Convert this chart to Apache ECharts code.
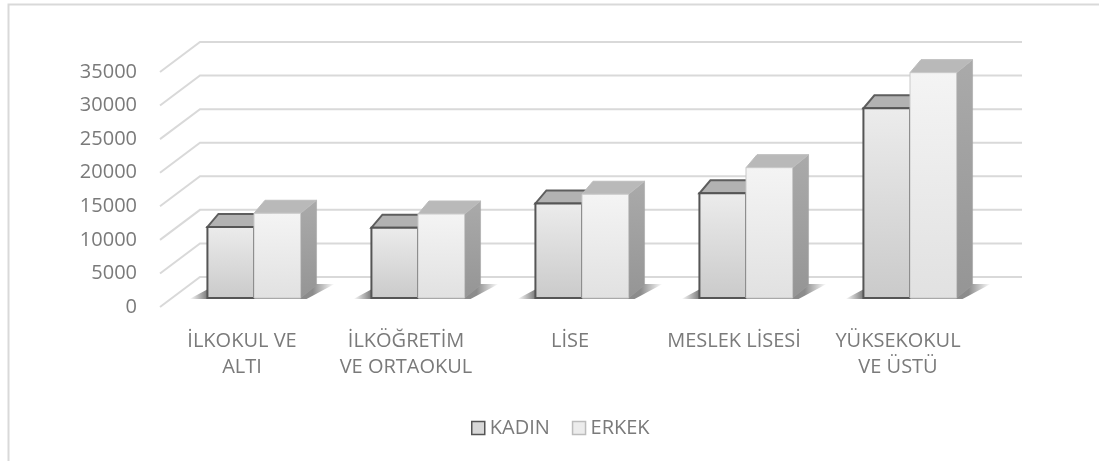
<!DOCTYPE html>
<html>
<head>
<meta charset="utf-8">
<script src="https://cdn.jsdelivr.net/npm/echarts@6/dist/echarts.min.js"></script>
<style>
  html, body { margin: 0; padding: 0; background: #fff; }
  #main { width: 1099px; height: 461px; }
</style>
</head>
<body>
<div id="main"></div>
<script>
// veriler
var categories = ['İLKOKUL VE\nALTI', 'İLKÖĞRETİM\nVE ORTAOKUL', 'LİSE', 'MESLEK LİSESİ', 'YÜKSEKOKUL\nVE ÜSTÜ'];
var kadin = [10580, 10470, 14080, 15590, 28250];
var erkek = [12620, 12510, 15450, 19410, 33560];
var yTicks = [0, 5000, 10000, 15000, 20000, 25000, 30000, 35000];

var FONT = '"Open Sans", Lato, sans-serif';
var TEXT = '#7a7a7a';

// 3B görünüm için kaydırmalar (duvar derinliği ve çubuk derinliği)
var WALL_DX = 40, WALL_DY = -30;
var BAR_DX = 12, BAR_DY = -9;          // çubuk ön yüzü zemin içinde
var TOP_DY = -13, TOP_DXL = 11, TOP_DXR = 16;

var myChart = echarts.init(document.getElementById('main'));

function lin(stops) {
  return new echarts.graphic.LinearGradient(0, 0, 0, 1, stops);
}

// arka duvar + sol kenar çizgileri
function renderGrid(params, api) {
  var cs = params.coordSys;
  var y = api.coord([0, api.value(1)])[1];
  var x0 = cs.x;
  var x1 = cs.x + cs.width + WALL_DX + 2;
  return {
    type: 'polyline',
    shape: { points: [[x0, y], [x0 + WALL_DX, y + WALL_DY], [x1, y + WALL_DY]] },
    style: { stroke: '#d9d9d9', lineWidth: 2, fill: null },
    silent: true
  };
}

// zemindeki gölge
function renderShadow(params, api) {
  var p = api.coord([api.value(0), 0]);
  var bw = api.size([1, 0])[0] * 0.284;
  var cx = p[0] + BAR_DX, yB = p[1] + BAR_DY;
  var xL = cx - bw, xR = cx + bw;
  return {
    type: 'polygon',
    shape: { points: [[xL - 18, yB + 1], [xR + 6, yB + 1], [xR + 34, yB - 14], [xL + 10, yB - 14]] },
    style: {
      fill: new echarts.graphic.LinearGradient(0, 0, 1, 0, [
        { offset: 0, color: 'rgba(0,0,0,0)' },
        { offset: 0.12, color: 'rgba(0,0,0,0.5)' },
        { offset: 0.85, color: 'rgba(0,0,0,0.45)' },
        { offset: 1, color: 'rgba(0,0,0,0)' }
      ])
    },
    silent: true
  };
}

function makeBar(side, look) {
  return function (params, api) {
    var i = api.value(0);
    var base = api.coord([i, 0]);
    var top = api.coord([i, api.value(1)]);
    var bw = api.size([1, 0])[0] * 0.284;
    var cx = base[0] + BAR_DX;
    var xL = side < 0 ? cx - bw : cx;
    var xR = side < 0 ? cx : cx + bw;
    var yB = base[1] + BAR_DY;
    var yT = top[1] + BAR_DY;
    return {
      type: 'group',
      children: [
        {
          type: 'polygon',
          shape: { points: [[xR, yT], [xR + TOP_DXR, yT + TOP_DY], [xR + TOP_DXR, yB + TOP_DY], [xR, yB]] },
          style: { fill: lin([{ offset: 0, color: '#aaaaaa' }, { offset: 1, color: '#959595' }]), stroke: '#a0a0a0', lineWidth: 0.5 }
        },
        {
          type: 'polygon',
          shape: { points: [[xL, yT], [xR, yT], [xR + TOP_DXR, yT + TOP_DY], [xL + TOP_DXL, yT + TOP_DY]] },
          style: { fill: look.top, stroke: look.topStroke, lineWidth: look.lw }
        },
        {
          type: 'rect',
          shape: { x: xL, y: yT, width: xR - xL, height: yB - yT },
          style: { fill: lin(look.front), stroke: look.stroke, lineWidth: look.lw }
        }
      ]
    };
  };
}

var kadinLook = {
  top: '#b2b2b2', topStroke: '#5e5e5e', stroke: '#555555', lw: 2,
  front: [{ offset: 0, color: '#ececec' }, { offset: 1, color: '#cacaca' }]
};
var erkekLook = {
  top: '#b9b9b9', topStroke: '#bdbdbd', stroke: '#c9c9c9', lw: 1,
  front: [{ offset: 0, color: '#f4f4f4' }, { offset: 1, color: '#e1e1e1' }]
};

var option = {
  animation: false,
  backgroundColor: '#ffffff',
  textStyle: { fontFamily: FONT },
  graphic: [
    {
      type: 'polyline',
      shape: { points: [[8.5, 461], [8.5, 4.5], [1099, 4.5]] },
      style: { stroke: '#d9d9d9', lineWidth: 2, fill: null },
      silent: true
    }
  ],
  grid: { left: 160, right: 119, top: 72, bottom: 154 },
  legend: {
    left: 466,
    top: 413,
    itemWidth: 13,
    itemHeight: 13,
    itemGap: 22,
    textStyle: { color: TEXT, fontSize: 20, fontFamily: FONT },
    data: [
      { name: 'KADIN', icon: 'rect', itemStyle: { color: '#d8d8d8', borderColor: '#555555', borderWidth: 1.5 } },
      { name: 'ERKEK', icon: 'rect', itemStyle: { color: '#ececec', borderColor: '#bcbcbc', borderWidth: 1.5 } }
    ]
  },
  xAxis: {
    type: 'category',
    data: categories,
    axisLine: { show: false },
    axisTick: { show: false },
    axisLabel: { interval: 0, color: TEXT, fontSize: 20, lineHeight: 26, margin: 21, fontFamily: FONT }
  },
  yAxis: {
    type: 'value',
    min: 0,
    max: 35000,
    interval: 5000,
    axisLine: { show: false },
    axisTick: { show: false },
    splitLine: { show: false },
    axisLabel: {
      color: TEXT, fontSize: 20, margin: 23, fontFamily: FONT,
      formatter: function (v) { return String(v); }
    }
  },
  series: [
    {
      name: 'grid',
      type: 'custom',
      renderItem: renderGrid,
      data: yTicks.map(function (v) { return [0, v]; }),
      encode: { x: 0, y: 1 },
      z: 1,
      silent: true
    },
    {
      name: 'shadow',
      type: 'custom',
      renderItem: renderShadow,
      data: categories.map(function (c, i) { return [i, 0]; }),
      encode: { x: 0, y: 1 },
      z: 2,
      silent: true
    },
    {
      name: 'KADIN',
      type: 'custom',
      renderItem: makeBar(-1, kadinLook),
      data: kadin.map(function (v, i) { return [i, v]; }),
      encode: { x: 0, y: 1 },
      z: 3
    },
    {
      name: 'ERKEK',
      type: 'custom',
      renderItem: makeBar(1, erkekLook),
      data: erkek.map(function (v, i) { return [i, v]; }),
      encode: { x: 0, y: 1 },
      z: 4
    }
  ]
};

myChart.setOption(option);
</script>
</body>
</html>
